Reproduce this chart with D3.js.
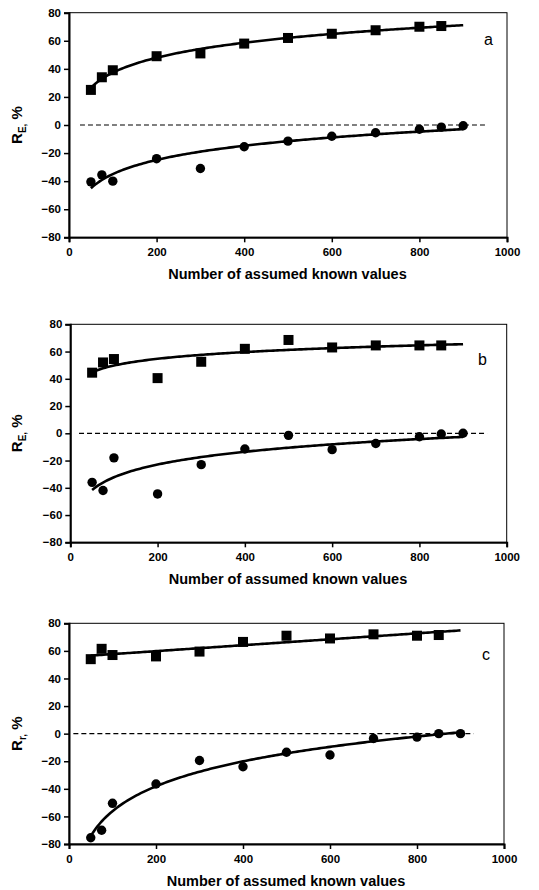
<!DOCTYPE html>
<html>
<head>
<meta charset="utf-8">
<style>
  body { margin: 0; background: #fff; }
  text { font-family: "Liberation Sans", Arial, sans-serif; fill: #000; }
</style>
</head>
<body>
<svg width="539" height="890"></svg>
<script src="https://cdn.jsdelivr.net/npm/d3@7"></script>
<script>

// x positions (number of assumed known values)
var xSquares = [50, 75, 100, 200, 300, 400, 500, 600, 700, 800, 850];
var xCircles = [50, 75, 100, 200, 300, 400, 500, 600, 700, 800, 850, 900];

// panel a
var aSquares = [25, 34, 39, 49, 51, 58, 62, 65, 67.5, 70, 70.5];
var aCircles = [-40.5, -35.5, -40, -24, -31, -15.5, -11.5, -8, -5.5, -3, -1.5, -0.5];
// panel b
var bSquares = [44.5, 52, 54.5, 40.5, 52.5, 62, 68.5, 63, 64.5, 64.5, 64.5];
var bCircles = [-36, -42, -18, -44.5, -23, -11.5, -1.5, -12, -7.5, -2.5, -0.5, 0];
// panel c
var cSquares = [54, 61.5, 57, 56, 59.5, 66.5, 71, 69, 72, 71, 71.5];
var cCircles = [-75.5, -70, -50.5, -36.5, -19.5, -24, -13.5, -15.5, -3.5, -2.5, 0, 0];

var yTicks = [-80, -60, -40, -20, 0, 20, 40, 60, 80];
var xTicks = [0, 200, 400, 600, 800, 1000];

var panels = [
  {letter: "a", sub: "E,", sq: aSquares, ci: aCircles, sqFit: "log", ciFit: "log",
   top: 12.7, bottom: 237.3, left: 69, right: 507, dash: [25, 955], letterPos: [484, 45]},
  {letter: "b", sub: "E,", sq: bSquares, ci: bCircles, sqFit: "log", ciFit: "log",
   top: 324.3, bottom: 542.3, left: 70.3, right: 506.7, dash: [20, 955], letterPos: [478, 365]},
  {letter: "c", sub: "r,", sq: cSquares, ci: cCircles, sqFit: "linear", ciFit: "log",
   top: 623.3, bottom: 844, left: 69, right: 504, dash: [10, 930], letterPos: [482, 660]}
];

var svg = d3.select("svg");

// least squares fit, either y = a + b*x or y = a + b*ln(x)
function fit(xs, ys, kind) {
  var t = xs.map(function(x) { return kind == "log" ? Math.log(x) : x; });
  var n = t.length;
  var mt = d3.mean(t), my = d3.mean(ys);
  var sxy = 0, sxx = 0;
  for (var i = 0; i < n; i++) {
    sxy += (t[i] - mt) * (ys[i] - my);
    sxx += (t[i] - mt) * (t[i] - mt);
  }
  var b = sxy / sxx, a = my - b * mt;
  return function(x) { return a + b * (kind == "log" ? Math.log(x) : x); };
}

panels.forEach(function(p) {
  var x = d3.scaleLinear().domain([0, 1000]).range([p.left, p.right]);
  var y = d3.scaleLinear().domain([-80, 80]).range([p.bottom, p.top]);
  var g = svg.append("g");

  // frame
  g.append("rect")
    .attr("x", p.left).attr("y", p.top)
    .attr("width", p.right - p.left).attr("height", p.bottom - p.top)
    .attr("fill", "none").attr("stroke", "#000").attr("stroke-width", 1);

  var yAxis = g.append("g")
    .attr("transform", "translate(" + p.left + ",0)")
    .call(d3.axisLeft(y).tickValues(yTicks).tickSize(5).tickPadding(3));
  var xAxis = g.append("g")
    .attr("transform", "translate(0," + p.bottom + ")")
    .call(d3.axisBottom(x).tickValues(xTicks).tickFormat(d3.format("d")).tickSize(5).tickPadding(6));
  [yAxis, xAxis].forEach(function(ax) {
    ax.select(".domain").attr("stroke-width", 2);
    ax.selectAll(".tick line").attr("stroke-width", 1.5);
    ax.selectAll("text")
      .style("font-family", "'Liberation Sans', Arial, sans-serif")
      .style("font-size", "11.5px").style("font-weight", "bold");
  });

  g.append("text")
    .attr("x", (p.left + p.right) / 2 - 0.5)
    .attr("y", p.bottom + 42)
    .attr("text-anchor", "middle")
    .style("font-size", "14.5px").style("font-weight", "bold")
    .text("Number of assumed known values");

  var yl = g.append("text")
    .attr("transform", "translate(22," + ((p.top + p.bottom) / 2) + ") rotate(-90)")
    .attr("text-anchor", "middle")
    .style("font-size", "15px").style("font-weight", "bold");
  yl.append("tspan").text("R");
  yl.append("tspan").attr("dy", 4).style("font-size", "10px").text(p.sub);
  yl.append("tspan").attr("dy", -4).text(" %");

  g.append("text")
    .attr("x", p.letterPos[0]).attr("y", p.letterPos[1])
    .style("font-size", "16px")
    .text(p.letter);

  // zero reference
  g.append("line")
    .attr("x1", x(p.dash[0])).attr("x2", x(p.dash[1]))
    .attr("y1", y(0)).attr("y2", y(0))
    .attr("stroke", "#000").attr("stroke-width", 1.2)
    .attr("stroke-dasharray", "5,3");

  // fitted curves
  var line = d3.line().curve(d3.curveLinear);
  [[xSquares, p.sq, p.sqFit], [xCircles, p.ci, p.ciFit]].forEach(function(s) {
    var f = fit(s[0], s[1], s[2]);
    var pts = d3.range(50, 900.1, 5).map(function(v) { return [x(v), y(f(v))]; });
    g.append("path").attr("d", line(pts))
      .attr("fill", "none").attr("stroke", "#000").attr("stroke-width", 2.6);
  });

  g.selectAll(".sq").data(p.sq).enter().append("rect")
    .attr("x", function(d, i) { return x(xSquares[i]) - 5; })
    .attr("y", function(d) { return y(d) - 5; })
    .attr("width", 10).attr("height", 10).attr("fill", "#000");

  g.selectAll(".ci").data(p.ci).enter().append("circle")
    .attr("cx", function(d, i) { return x(xCircles[i]); })
    .attr("cy", function(d) { return y(d); })
    .attr("r", 4.7).attr("fill", "#000");
});

</script>
</body>
</html>
